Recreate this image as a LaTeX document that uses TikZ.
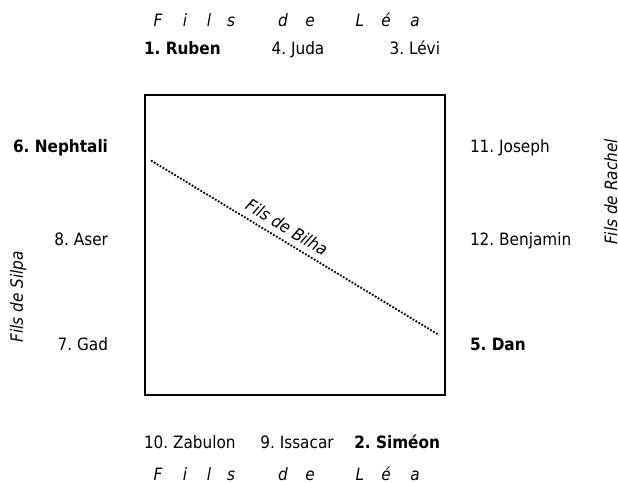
\documentclass[tikz,border=0pt]{standalone}
\usepackage{fontspec}
\setmainfont{DejaVu Sans Condensed}
\frenchspacing
\begin{document}
\begin{tikzpicture}[x=1pt,y=-1pt,
  every node/.style={inner sep=0pt,outer sep=0pt},
  txt/.style={font=\fontsize{17}{20}\selectfont},
  bold/.style={font=\fontsize{17}{20}\selectfont\bfseries},
  ital/.style={font=\fontsize{17}{20}\selectfont\itshape},
  boxed/.style={draw,line width=2pt,minimum size=300pt},
  dots/.style={dash pattern=on 1.8pt off 1.6pt,line width=1.8pt}]
\useasboundingbox (0,0) rectangle (618,482);
\node[boxed] (box) at (295,245) {};
% top group
\foreach \ch/\xx [count=\i] in {F/158,i/185,l/209,s/231,d/283,e/310,L/360,é/386,a/415}{
  \node[ital,anchor=base] (t\i) at (\xx,26) {\ch};
  \node[ital,anchor=base] (b\i) at (\xx,480.5) {\ch};
}
\node[bold,anchor=base west] (ruben) at (144,54) {1. Ruben};
\node[txt,anchor=base] (juda) at (298,54) {4. Juda};
\node[txt,anchor=base east] (levi) at (440,54) {3. Lévi};
% bottom group
\node[txt,anchor=base west] (zabulon) at (144,448) {10. Zabulon};
\node[txt,anchor=base] (issacar) at (297,448) {9. Issacar};
\node[bold,anchor=base east] (simeon) at (440,448) {2. Siméon};
% left column
\node[bold,anchor=base east] (nephtali) at (108,152) {6. Nephtali};
\node[txt,anchor=base east] (aser) at (108,245) {8. Aser};
\node[txt,anchor=base east] (gad) at (108,350) {7. Gad};
\node[ital,anchor=base,rotate=90] (silpa) at (23,297) {Fils de Silpa};
% right column
\node[txt,anchor=base west] (joseph) at (470,152) {11. Joseph};
\node[txt,anchor=base west] (benjamin) at (470,245) {12. Benjamin};
\node[bold,anchor=base west] (dan) at (470,350) {5. Dan};
\node[ital,anchor=base,rotate=90] (rachel) at (617,192) {Fils de Rachel};
% Bilha diagonal
\coordinate (bA) at (151,160.5);
\coordinate (bB) at (439,335);
\draw[dots] (bA) -- (bB);
\node[ital,rotate=-31.3] (bilha) at (287,227.5) {Fils de Bilha};
\end{tikzpicture}
\end{document}
